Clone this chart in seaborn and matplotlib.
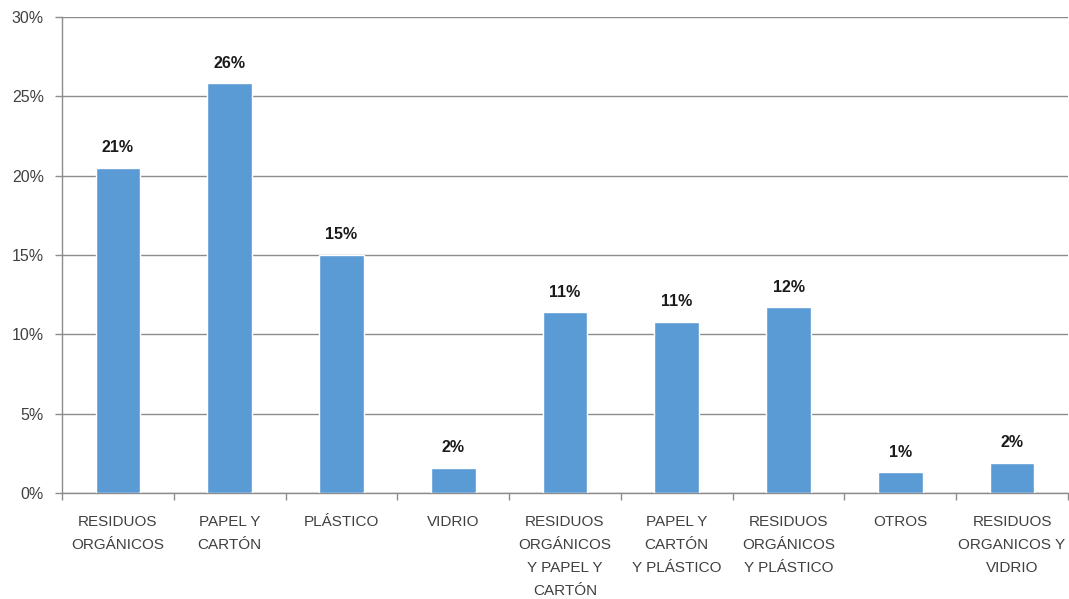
import matplotlib
matplotlib.use("Agg")
import matplotlib.pyplot as plt
import seaborn as sns
import pandas as pd
import numpy as np
from matplotlib.ticker import FixedLocator, FuncFormatter

categorias = [
    "RESIDUOS\nORGÁNICOS",
    "PAPEL Y\nCARTÓN",
    "PLÁSTICO",
    "VIDRIO",
    "RESIDUOS\nORGÁNICOS\nY PAPEL Y\nCARTÓN",
    "PAPEL Y\nCARTÓN\nY PLÁSTICO",
    "RESIDUOS\nORGÁNICOS\nY PLÁSTICO",
    "OTROS",
    "RESIDUOS\nORGANICOS Y\nVIDRIO",
]
porcentajes = [20.5, 25.8, 15.0, 1.6, 11.4, 10.8, 11.7, 1.3, 1.9]
etiquetas = ["21%", "26%", "15%", "2%", "11%", "11%", "12%", "1%", "2%"]
ticks_y = [0, 5, 10, 15, 20, 25, 30]

sns.set_theme(style="white")
plt.rcParams["font.family"] = ["Liberation Sans", "DejaVu Sans"]

df = pd.DataFrame({"categoria": categorias, "porcentaje": porcentajes})

fig = plt.figure(figsize=(10.69, 5.99), dpi=100)
ax = fig.add_axes([0.058, 0.177, 0.941, 0.795])

sns.barplot(data=df, x="categoria", y="porcentaje", color="#5B9BD5",
            saturation=1, width=0.4, ax=ax, zorder=3)

ax.set_ylim(0, 30)
ax.set_xlim(-0.5, len(categorias) - 0.5)
ax.yaxis.set_major_locator(FixedLocator(ticks_y))
ax.yaxis.set_major_formatter(FuncFormatter(lambda v, p: f"{v:.0f}%"))
ax.grid(axis="y", color="#8C8C8C", linewidth=1, zorder=0)
ax.set_axisbelow(True)

for s in ["top", "right"]:
    ax.spines[s].set_visible(False)
for s in ["left", "bottom"]:
    ax.spines[s].set_color("#8C8C8C")
    ax.spines[s].set_linewidth(1)

ax.tick_params(axis="y", which="major", length=5, color="#8C8C8C", width=1,
               labelsize=11.5, labelcolor="#404040", pad=8, left=True)
ax.tick_params(axis="x", which="major", length=0, labelsize=11,
               labelcolor="#404040", pad=16)
ax.xaxis.set_minor_locator(FixedLocator(np.arange(-0.5, len(categorias) + 0.5, 1)))
ax.tick_params(axis="x", which="minor", length=5, color="#8C8C8C", width=1,
               bottom=True)

for lbl in ax.get_xticklabels():
    lbl.set_linespacing(1.8)

ax.set_xlabel("")
ax.set_ylabel("")

for i, (v, t) in enumerate(zip(porcentajes, etiquetas)):
    ax.annotate(t, (i, v), xytext=(0, 9), textcoords="offset points",
                ha="center", va="bottom", fontsize=11.5, fontweight="bold",
                color="#1a1a1a")

fig.savefig("out.png", dpi=100, facecolor="white")
